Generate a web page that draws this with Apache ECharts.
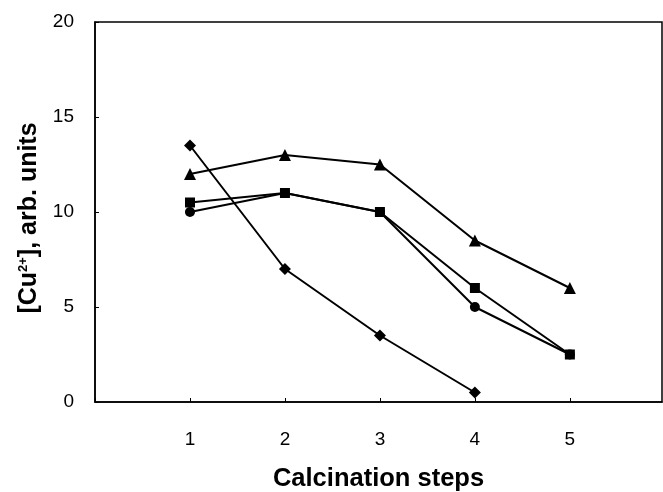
<!DOCTYPE html>
<html>
<head>
<meta charset="utf-8">
<script src="https://cdn.jsdelivr.net/npm/echarts@6/dist/echarts.min.js"></script>
<style>
  html, body { margin: 0; padding: 0; background: #fff; }
  #chart { width: 663px; height: 492px; }
</style>
</head>
<body>
<div id="chart"></div>
<script>
// Calcination step numbers
const steps = [1, 2, 3, 4, 5];
// Cu2+ concentration (arb. units) per sample series
const seriesDiamond = [13.5, 7, 3.5, 0.5];
const seriesTriangle = [12, 13, 12.5, 8.5, 6];
const seriesSquare = [10.5, 11, 10, 6, 2.5];
const seriesCircle = [10, 11, 10, 5, 2.5];
const yTicks = [0, 5, 10, 15, 20];

const pair = (vals) => vals.map((v, i) => [steps[i], v]);

function line(name, vals, symbol, size) {
  return {
    name: name,
    type: 'line',
    data: pair(vals),
    symbol: symbol,
    symbolSize: size,
    lineStyle: { color: '#000', width: 2 },
    itemStyle: { color: '#000' },
    animation: false
  };
}

const chart = echarts.init(document.getElementById('chart'));
chart.setOption({
  backgroundColor: '#fff',
  grid: {
    left: 95, right: 1, top: 22, bottom: 90,
    outerBoundsMode: 'none',
    containLabel: false,
    show: true, borderColor: '#000', borderWidth: 1.5
  },
  xAxis: {
    type: 'value',
    min: 0, max: 5.97, interval: 1,
    name: 'Calcination steps',
    nameLocation: 'middle',
    nameGap: 64,
    nameTextStyle: { fontFamily: 'Liberation Sans', fontWeight: 'bold', fontSize: 25.5, color: '#000' },
    axisLine: { lineStyle: { color: '#000', width: 1.5 } },
    axisTick: { inside: true, length: 4, lineStyle: { color: '#000' } },
    axisLabel: {
      margin: 28,
      fontFamily: 'Liberation Sans', fontSize: 19, color: '#000',
      showMaxLabel: false,
      formatter: (v) => steps.includes(v) ? String(v) : ''
    },
    splitLine: { show: false }
  },
  yAxis: {
    type: 'value',
    min: yTicks[0], max: yTicks[yTicks.length - 1], interval: 5,
    name: '[Cu{sup|2+}], arb. units',
    nameLocation: 'middle',
    nameGap: 48,
    nameRotate: 90,
    nameTextStyle: {
      fontFamily: 'Liberation Sans', fontWeight: 'bold', fontSize: 25, color: '#000',
      padding: [0, 12, 0, 0],
      rich: {
        sup: { fontFamily: 'Liberation Sans', fontWeight: 'bold', fontSize: 13, color: '#000', verticalAlign: 'top', padding: [0, 0, 12, 0] }
      }
    },
    axisLine: { show: true, lineStyle: { color: '#000', width: 1.5 } },
    axisTick: { show: true, inside: true, length: 4, lineStyle: { color: '#000' } },
    axisLabel: { margin: 21, fontFamily: 'Liberation Sans', fontSize: 19, color: '#000' },
    splitLine: { show: false }
  },
  series: [
    line('diamond', seriesDiamond, 'diamond', 12),
    line('triangle', seriesTriangle, 'triangle', 12),
    line('square', seriesSquare, 'rect', 10),
    line('circle', seriesCircle, 'circle', 10)
  ]
});
</script>
</body>
</html>
